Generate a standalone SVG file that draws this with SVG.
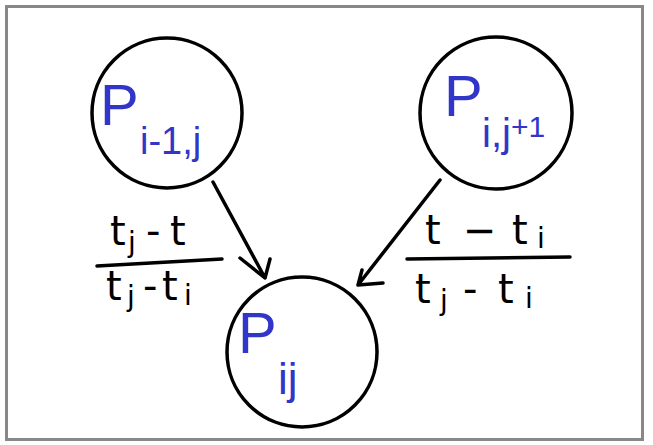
<svg xmlns="http://www.w3.org/2000/svg" width="653" height="445" viewBox="0 0 653 445">
<defs>
<style>
.node{fill:none;stroke:#000;stroke-width:3.5}
.lbl{fill:#3236c8;font-family:"Liberation Sans","DejaVu Sans",sans-serif}
.frac{fill:#000;font-family:"DejaVu Sans","Liberation Sans",sans-serif;font-size:40px}
.sub{font-size:28px}
.ln{fill:none;stroke:#000;stroke-width:3.5;stroke-linecap:round;stroke-linejoin:round}
</style>
</defs>
<rect x="0" y="0" width="653" height="445" fill="#fff"/>
<rect x="6.5" y="6.5" width="636" height="433" fill="none" stroke="#888" stroke-width="3"/>
<g id="node-left">
<circle class="node" cx="167" cy="113" r="75"/>
<text class="lbl" x="100" y="125" font-size="58">P</text>
<text class="lbl" x="140" y="154" font-size="38">i-1,j</text>
</g>
<g id="node-right">
<circle class="node" cx="496" cy="113" r="76"/>
<text class="lbl" x="444" y="116" font-size="58">P</text>
<text class="lbl" x="482" y="147" font-size="40">i,j<tspan dy="-10" font-size="30">+1</tspan></text>
</g>
<g id="node-bottom">
<circle class="node" cx="302" cy="352" r="75"/>
<text class="lbl" x="238" y="353" font-size="58">P</text>
<text class="lbl" x="278" y="394" font-size="44">ij</text>
</g>
<g id="connectors">
<path class="ln" d="M213,182 L265,278 M240,258 L265,278 L270,259"/>
<path class="ln" d="M440,180 L358,285 M362,270 L358,285 L383,283"/>
</g>
<g id="label-left">
<text class="frac" y="245"><tspan x="110">t</tspan><tspan class="sub" x="128" y="252">j</tspan><tspan x="146" y="245">-</tspan><tspan x="170" y="245">t</tspan></text>
<path class="ln" d="M97,266 L222,259"/>
<text class="frac" y="300"><tspan x="106">t</tspan><tspan class="sub" x="127" y="306">j</tspan><tspan x="143" y="300">-</tspan><tspan x="162" y="300">t</tspan><tspan class="sub" x="184" y="305">i</tspan></text>
</g>
<g id="label-right">
<text class="frac" y="244"><tspan x="425">t</tspan><tspan x="463" y="244">−</tspan><tspan x="512" y="244">t</tspan><tspan class="sub" x="537" y="248">i</tspan></text>
<path class="ln" d="M407,259 L570,257"/>
<text class="frac" y="303"><tspan x="415">t</tspan><tspan class="sub" x="440" y="310">j</tspan><tspan x="463" y="303">-</tspan><tspan x="498" y="303">t</tspan><tspan class="sub" x="525" y="308">i</tspan></text>
</g>
</svg>
